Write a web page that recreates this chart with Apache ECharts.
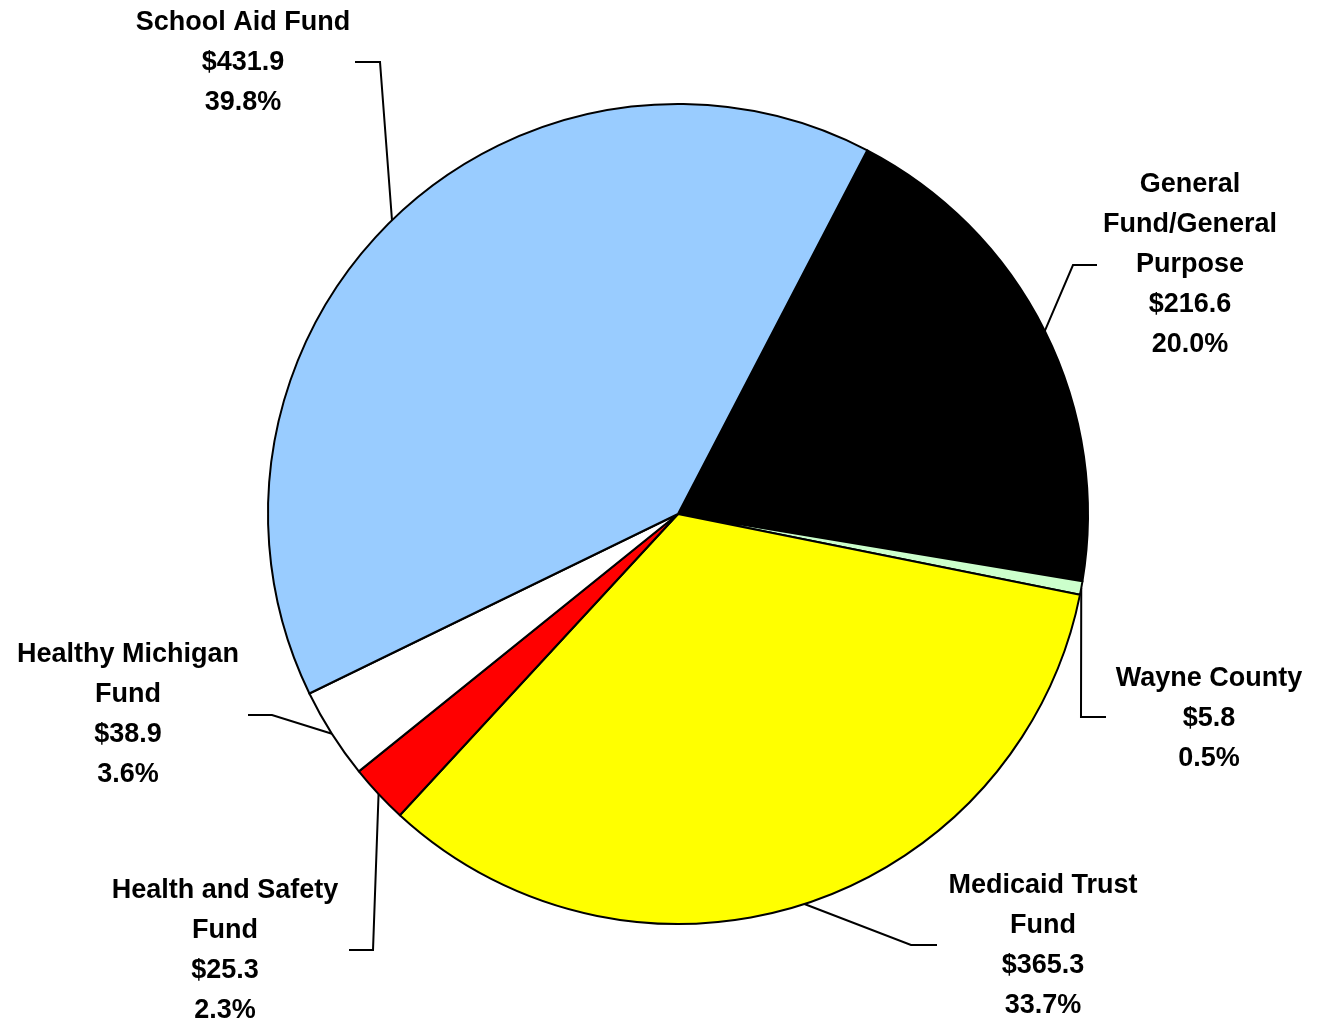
<!DOCTYPE html>
<html>
<head>
<meta charset="utf-8">
<style>
  html, body { margin: 0; padding: 0; background: #fff; }
  #main { width: 1322px; height: 1024px; }
</style>
<script src="https://cdn.jsdelivr.net/npm/echarts@6/dist/echarts.min.js"></script>
</head>
<body>
<div id="main"></div>
<script>
// slice data, clockwise from the top-right boundary
const fundNames = ['General Fund/General Purpose', 'Wayne County', 'Medicaid Trust Fund',
  'Health and Safety Fund', 'Healthy Michigan Fund', 'School Aid Fund'];
const labelNames = ['General\nFund/General\nPurpose', 'Wayne County', 'Medicaid Trust\nFund',
  'Health and Safety\nFund', 'Healthy Michigan\nFund', 'School Aid Fund'];
const amounts = [216.6, 5.8, 365.3, 25.3, 38.9, 431.9];
const percents = ['20.0', '0.5', '33.7', '2.3', '3.6', '39.8'];
const sliceColors = ['#000000', '#CCFFCC', '#FFFF00', '#FF0000', '#FFFFFF', '#99CCFF'];

// where each label sits and how its leader line bends (pixels)
const labelSpots = [
  { x: 1190, y: 265, elbow: [1073, 265], end: [1097, 265] },
  { x: 1209, y: 719, elbow: [1081, 717], end: [1106, 717] },
  { x: 1043, y: 946, elbow: [911, 945], end: [937, 945] },
  { x: 225, y: 951, elbow: [373, 950], end: [349, 950] },
  { x: 128, y: 715, elbow: [272, 715], end: [248, 715] },
  { x: 243, y: 63, elbow: [380, 62], end: [355, 62] }
];

const chart = echarts.init(document.getElementById('main'));

const pieData = fundNames.map((name, i) => ({
  name: name,
  value: amounts[i],
  itemStyle: { color: sliceColors[i] }
}));

chart.setOption({
  backgroundColor: '#fff',
  animation: false,
  series: [{
    type: 'pie',
    center: [678, 514],
    radius: 410,
    startAngle: 62.5,
    clockwise: true,
    avoidLabelOverlap: false,
    data: pieData,
    itemStyle: { borderColor: '#000', borderWidth: 2 },
    label: {
      show: true,
      position: 'outside',
      color: '#000',
      fontFamily: 'Liberation Sans, Arial, sans-serif',
      fontWeight: 'bold',
      fontSize: 27,
      lineHeight: 40,
      align: 'center',
      formatter: (p) => labelNames[p.dataIndex] + '\n$' + amounts[p.dataIndex].toFixed(1) +
        '\n' + percents[p.dataIndex] + '%'
    },
    labelLine: {
      show: true,
      length: 20,
      length2: 20,
      smooth: false,
      lineStyle: { color: '#000', width: 2 }
    },
    labelLayout: (params) => {
      const s = labelSpots[params.dataIndex];
      const start = params.labelLinePoints ? params.labelLinePoints[0] : s.elbow;
      return {
        x: s.x,
        y: s.y,
        align: 'center',
        verticalAlign: 'middle',
        labelLinePoints: [start, s.elbow, s.end]
      };
    }
  }]
});
</script>
</body>
</html>
